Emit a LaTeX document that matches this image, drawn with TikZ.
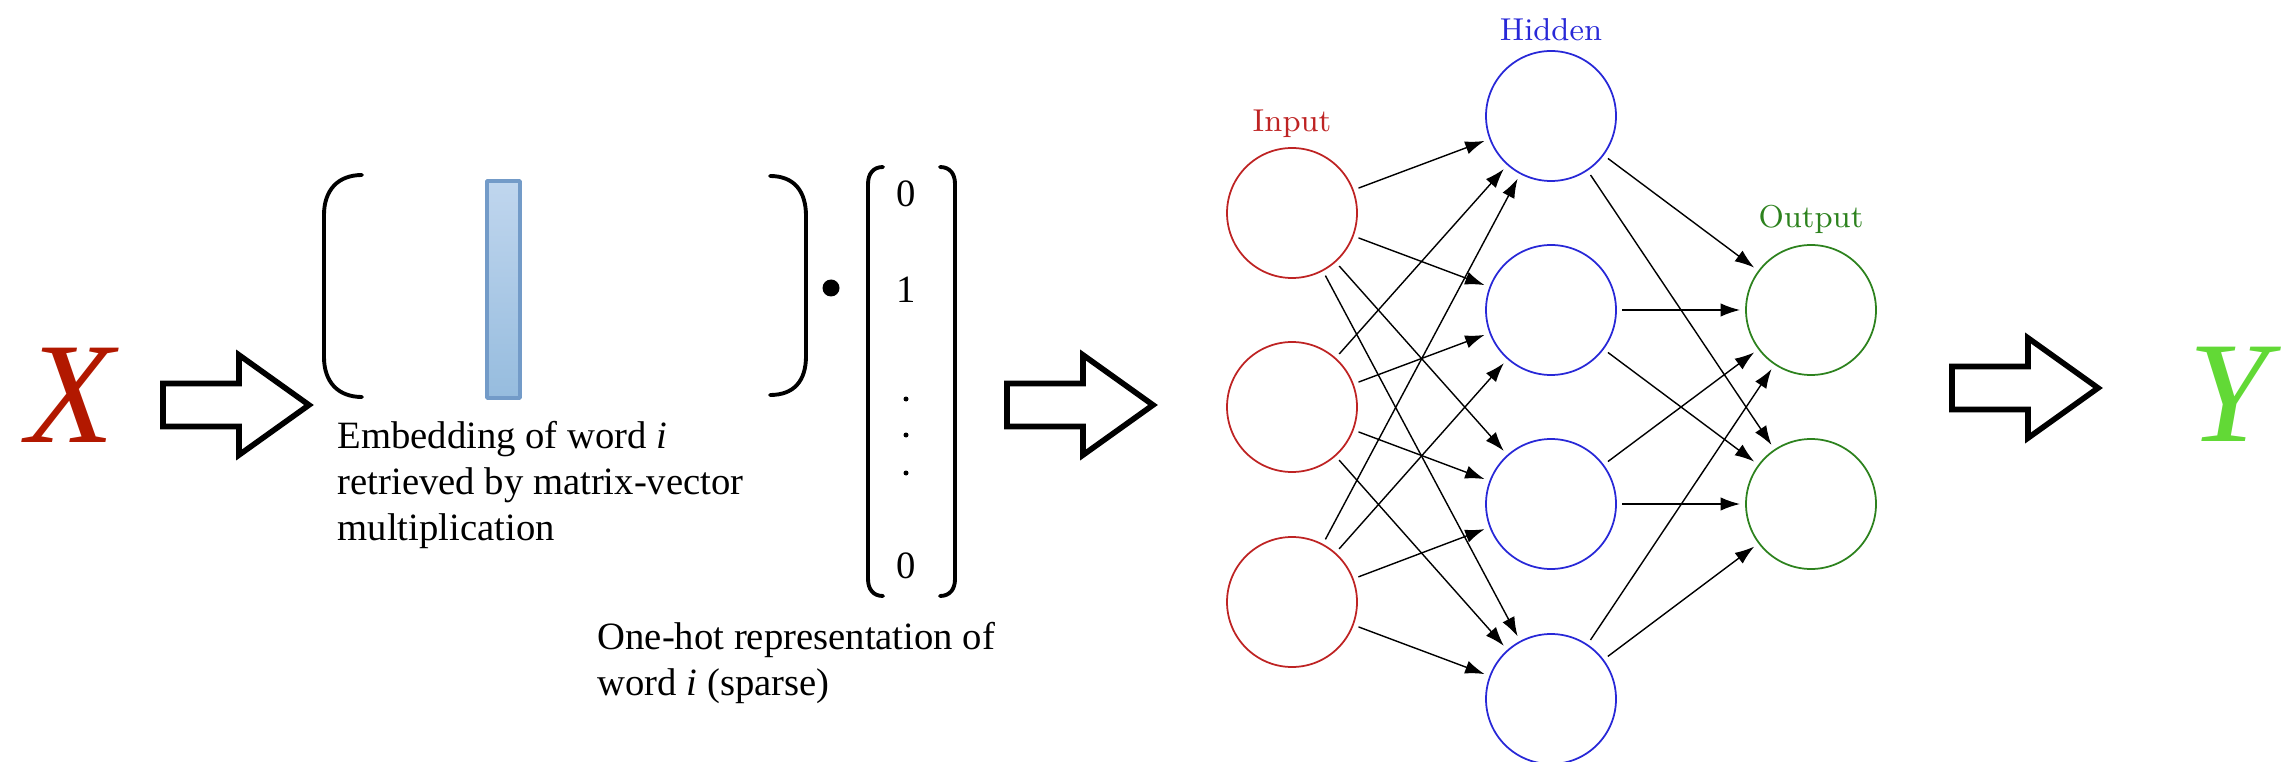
\documentclass[tikz,border=0pt]{standalone}
\usepackage{fontspec}
\newfontfamily\tnr{Liberation Serif}
\usetikzlibrary{arrows.meta}

\definecolor{xred}{RGB}{178,24,0}
\definecolor{ygreen}{RGB}{98,217,54}
\definecolor{inred}{RGB}{190,35,35}
\definecolor{hidblue}{RGB}{40,40,215}
\definecolor{outgreen}{RGB}{45,130,30}
\definecolor{bartop}{RGB}{192,214,238}
\definecolor{barbot}{RGB}{150,188,222}
\definecolor{barline}{RGB}{115,155,200}

\tikzset{
  neuron/.style={circle, minimum size=13mm, inner sep=0pt, outer sep=0.6mm, line width=0.5pt},
  conn/.style={-{Latex[length=5.5pt,width=3.8pt]}, line width=0.4pt},
  blockarrow/.style={line width=1.6pt, line join=miter},
  brk/.style={line width=1.1pt, line cap=round},
  caption/.style={font=\tnr\fontsize{11}{13}\selectfont, align=left, inner sep=0pt, anchor=north west},
  entry/.style={font=\tnr\fontsize{11}{13}\selectfont, inner sep=0pt},
  bigvar/.style={font=\tnr\itshape\fontsize{41}{41}\selectfont, inner sep=0pt},
  layerlbl/.style={font=\fontsize{9}{11}\selectfont, anchor=base, inner sep=0pt}
}

\begin{document}
\begin{tikzpicture}[x=0.1mm, y=-0.1mm, line join=round]
	\useasboundingbox (0,0) rectangle (2285,762);
	
	% word in, prediction out
	\node[bigvar, text=xred] (xin) at (71,395) {X};
	\node[bigvar, text=ygreen] (yout) at (2229,394) {Y};
	
	% block arrows
	\foreach \ax/\ay in {163/405, 1007/405, 1952/388}{
		\draw[blockarrow] (\ax,\ay-21.5) -- ++(76,0) -- ++(0,-28.5) -- ++(70,50)
			-- ++(-70,50) -- ++(0,-28.5) -- ++(-76,0) -- cycle;
	};
	
	% embedding matrix
	\draw[brk] (362,175) .. controls (338,175) and (324,190) .. (324,215) -- (324,357)
		.. controls (324,382) and (338,397) .. (362,397);
	\draw[brk] (770,176) .. controls (794,176) and (806,191) .. (806,216) -- (806,356)
		.. controls (806,381) and (794,395) .. (770,395);
	\shade[top color=bartop, bottom color=barbot, draw=barline, line width=1pt] (487,181) rectangle (520,398);
	\fill (831,288) circle (8.5);
	
	% one-hot vector
	\draw[brk] (883,167) .. controls (873,167) and (868,174) .. (868,184) -- (868,579)
		.. controls (868,589) and (873,596) .. (883,596);
	\draw[brk] (940,167) .. controls (950,167) and (955,174) .. (955,184) -- (955,579)
		.. controls (955,589) and (950,596) .. (940,596);
	\node[entry] (vtop) at (906,194) {0};
	\node[entry] (vone) at (906,290) {1};
	\node[entry] (vbot) at (906,566) {0};
	\foreach \dy in {399,435,473}{
		\fill (906,\dy) circle (2.5);
	};
	
	\node[caption] (embtxt) at (337,421) {Embedding of word \textit{i}\\retrieved by matrix-vector\\multiplication};
	\node[caption] (hottxt) at (597,622) {One-hot representation of\\word \textit{i} (sparse)};
	
	% network
	\foreach \n/\y in {1/213, 2/407, 3/602}{
		\node[neuron, draw=inred] (i\n) at (1292,\y) {};
	};
	\foreach \n/\y in {1/116, 2/310, 3/504, 4/699}{
		\node[neuron, draw=hidblue] (h\n) at (1551,\y) {};
	};
	\foreach \n/\y in {1/310, 2/504}{
		\node[neuron, draw=outgreen] (o\n) at (1811,\y) {};
	};
	\foreach \a in {1,2,3}{
		\foreach \b in {1,...,4}{
			\draw[conn] (i\a) -- (h\b);
		};
	};
	\foreach \a in {1,...,4}{
		\foreach \b in {1,2}{
			\draw[conn] (h\a) -- (o\b);
		};
	};
	\node[layerlbl, text=inred] (lblin) at (1292,132) {Input};
	\node[layerlbl, text=hidblue] (lblhid) at (1551,41) {Hidden};
	\node[layerlbl, text=outgreen] (lblout) at (1811,228) {Output};
	
\end{tikzpicture}
\end{document}
